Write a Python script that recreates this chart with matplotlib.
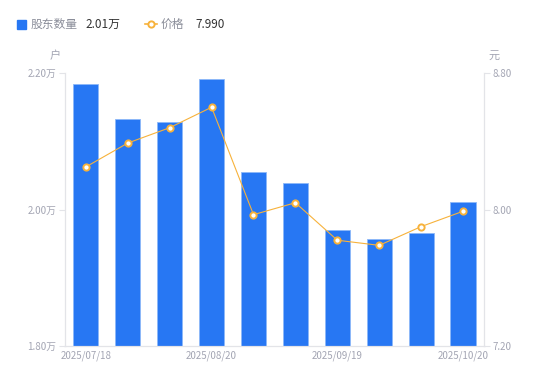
import numpy as np
import matplotlib
matplotlib.use("Agg")
import matplotlib.pyplot as plt
from matplotlib.patches import Rectangle
from matplotlib.lines import Line2D

plt.rcParams['font.family'] = ['Noto Sans CJK SC', 'DejaVu Sans']

# data (holders in 万户, price in 元)
dates = ['2025/07/18', '2025/07/31', '2025/08/10', '2025/08/20', '2025/08/31',
         '2025/09/10', '2025/09/19', '2025/09/30', '2025/10/10', '2025/10/20']
holders = [2.184, 2.133, 2.128, 2.191, 2.055, 2.039, 1.970, 1.957, 1.966, 2.011]
price = [8.25, 8.39, 8.48, 8.60, 7.97, 8.04, 7.82, 7.79, 7.90, 7.99]
shown_ticks = [0, 3, 6, 9]

BLUE = '#2777f3'
ORANGE = '#f7b23b'
GRAY = '#a3a5b3'
AXIS = '#e3e4e8'

fig = plt.figure(figsize=(5.5, 3.81), dpi=100)
ax = fig.add_axes([0.118, 0.092, 0.762, 0.716])
ax2 = ax.twinx()

x = np.arange(len(dates))
ax.bar(x, holders, width=0.6, color=BLUE, edgecolor='#8db8f9', linewidth=0.6, zorder=2)
ax.set_ylim(1.80, 2.20)
ax.set_xlim(-0.5, len(dates) - 0.5)
ax.set_yticks([1.80, 2.00, 2.20])
ax.set_yticklabels([f'{v:.2f}万' for v in [1.80, 2.00, 2.20]])
ax.set_xticks(x[shown_ticks])
ax.set_xticklabels([dates[i] for i in shown_ticks])

ax2.plot(x, price, color=ORANGE, linewidth=0.8, marker='o', markersize=4.5,
         markerfacecolor='white', markeredgecolor=ORANGE, markeredgewidth=1.4, zorder=3)
ax2.set_ylim(7.20, 8.80)
ax2.set_yticks([7.20, 8.00, 8.80])
ax2.set_yticklabels([f'{v:.2f}' for v in [7.20, 8.00, 8.80]])

for a in (ax, ax2):
    a.spines['top'].set_visible(False)
    for s in ('left', 'right', 'bottom'):
        a.spines[s].set_color(AXIS)
        a.spines[s].set_linewidth(0.8)
    a.tick_params(colors=GRAY, labelsize=7, length=4, width=0.8, color=AXIS, pad=2)
ax.tick_params(axis='x', length=0, pad=3)

ax.text(-0.01, 1.045, '户', transform=ax.transAxes, ha='right', va='bottom',
        fontsize=8, color=GRAY)
ax2.text(1.01, 1.045, '元', transform=ax2.transAxes, ha='left', va='bottom',
         fontsize=8, color=GRAY)

# legend drawn by hand: name in gray, latest value in dark
ly = 1 - 24 / 381
fig.add_artist(Rectangle((17 / 550, ly - 4.5 / 381), 9 / 550, 9 / 381,
                         transform=fig.transFigure, color=BLUE))
fig.text(31 / 550, ly, '股东数量', fontsize=8.5, color='#8a8d99', va='center')
fig.text(85 / 550, ly, f'{holders[-1]:.2f}万', fontsize=8.5, color='#333333', va='center')
fig.add_artist(Line2D([145 / 550, 157 / 550], [ly, ly], transform=fig.transFigure,
                      color=ORANGE, linewidth=1.2))
fig.add_artist(Line2D([151 / 550], [ly], transform=fig.transFigure, color=ORANGE,
                      marker='o', markersize=4.5, markerfacecolor='white',
                      markeredgewidth=1.4))
fig.text(161 / 550, ly, '价格', fontsize=8.5, color='#8a8d99', va='center')
fig.text(195 / 550, ly, f'{price[-1]:.3f}', fontsize=8.5, color='#333333', va='center')

fig.savefig('out.png', dpi=100)
